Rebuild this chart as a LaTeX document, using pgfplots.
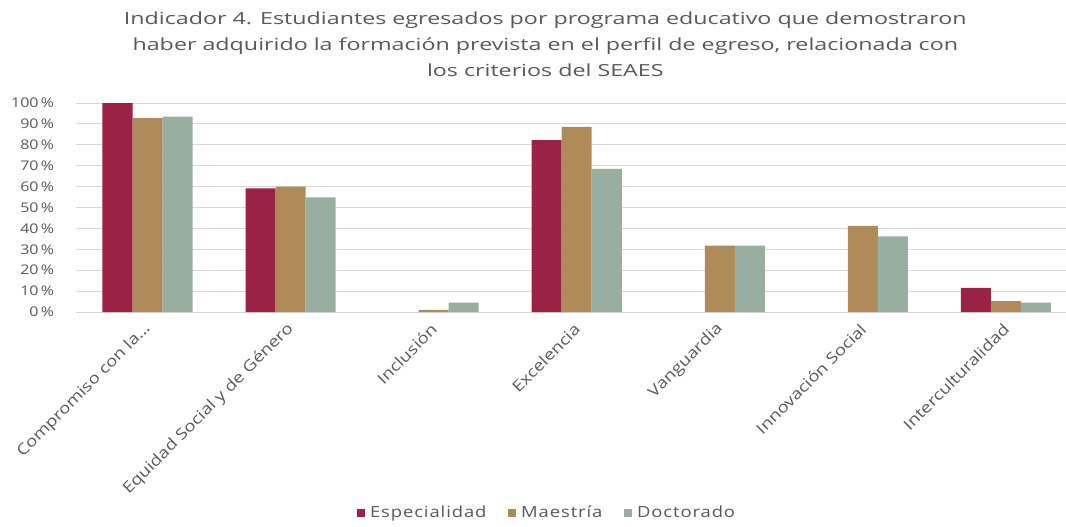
\documentclass[border=0pt]{standalone}
\usepackage{fontspec}
\setmainfont{Open Sans}[FakeStretch=1.2]
\newfontfamily\titlefont{Open Sans}[FakeStretch=1.395]
\newfontfamily\legfont{Open Sans}[FakeStretch=1.2, LetterSpace=6]
\usepackage{pgfplots}
\pgfplotsset{compat=1.18}
\definecolor{esp}{HTML}{9B2247}
\definecolor{mae}{HTML}{B08B5A}
\definecolor{doc}{HTML}{98AEA0}
\definecolor{txt}{HTML}{595959}
\definecolor{grd}{HTML}{D9D9D9}

\begin{document}
\begin{tikzpicture}
\useasboundingbox (0,0) rectangle (799.5pt,-395.25pt);
\begin{axis}[
  at={(57pt,-234pt)}, anchor=south west,
  width=742.5pt, height=156.75pt, scale only axis,
  /pgf/number format/assume math mode=true,
  ybar=0pt, bar width=0.21,
  xmin=-0.5, xmax=6.42, ymin=0, ymax=100,
  y filter/.expression={y==0 ? nan : y},
  axis line style={draw=none},
  ymajorgrids, grid style={grd, line width=0.75pt},
  major tick length=0pt,
  ytick={0,10,...,100},
  yticklabel={\pgfmathprintnumber{\tick}\,\%},
  yticklabel style={font=\fontsize{10}{12}\selectfont, text=txt, xshift=-13pt},
  xtick={0,...,6},
  xticklabels={Compromiso con la\dots, Equidad Social y de Género, Inclusión, Excelencia, Vanguardia, Innovación Social, Interculturalidad},
  xticklabel style={font=\fontsize{11.5}{13}\selectfont, text=txt, rotate=45, anchor=east, yshift=-8pt, xshift=-4pt},
  legend style={at={(0.476,-0.962)}, anchor=center, legend columns=3, draw=none,
    font=\legfont\fontsize{11.5}{13}\selectfont, text=txt,
    /tikz/every even column/.append style={column sep=14pt}},
  legend image code/.code={\fill[#1] (0pt,-3pt) rectangle (6pt,3pt); \path (0pt,0pt) -- (8pt,0pt);},
]
\addplot[fill=esp, draw=none] coordinates {(0,100) (1,59.2) (2,0) (3,82.2) (4,0) (5,0) (6,11.6)};
\addlegendentry{Especialidad}
\addplot[fill=mae, draw=none] coordinates {(0,92.8) (1,60.0) (2,1.0) (3,88.6) (4,31.8) (5,41.2) (6,5.2)};
\addlegendentry{Maestría}
\addplot[fill=doc, draw=none] coordinates {(0,93.5) (1,54.8) (2,4.5) (3,68.5) (4,31.8) (5,36.2) (6,4.5)};
\addlegendentry{Doctorado}
\end{axis}
\node[font=\titlefont\fontsize{12.5}{19.5}\selectfont, text=txt, align=center] at (409pt,-33pt)
  {Indicador 4. Estudiantes egresados por programa educativo que demostraron\\
   haber adquirido la formación prevista en el perfil de egreso, relacionada con\\
   los criterios del SEAES};
\end{tikzpicture}
\end{document}
